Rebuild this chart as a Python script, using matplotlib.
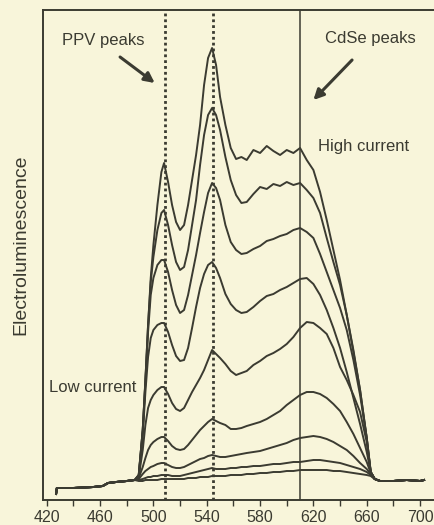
"""Electroluminescence spectra of a PPV / CdSe device at rising drive current."""
import matplotlib
matplotlib.use("Agg")
import matplotlib.pyplot as plt

BG = "#f8f5da"
INK = "#3b3b31"

# shared flat baseline before the rising edge, and after the fall-off (nm, a.u.)
base_left_x = [427, 427.6, 440, 455, 462, 466, 472, 480, 486]
base_left_y = [6, 12, 12, 13, 14, 17, 18, 19, 20]
base_right_x = [666, 670, 680, 690, 700, 703]
base_right_y = [21, 19, 19, 20, 19, 20]

wl = [489, 492, 494, 496, 498, 500, 503, 506, 508, 511, 514, 517, 520, 523, 526,
      529, 532, 535, 538, 541, 544, 547, 550, 554, 558, 562, 566, 570, 575, 580,
      585, 590, 595, 600, 605, 610, 615, 620, 625, 630, 635, 640, 645, 650, 655,
      660, 663]

# high current -> low current
el_1 = [25, 70, 120, 175, 222, 255, 295, 328, 337, 318, 295, 278, 270, 275, 295,
        320, 345, 375, 415, 442, 452, 435, 403, 375, 352, 341, 343, 340, 350, 347,
        354, 349, 345, 350, 347, 352, 340, 330, 308, 280, 250, 220, 185, 148, 110,
        62, 28]
el_2 = [25, 70, 120, 175, 218, 243, 270, 287, 290, 275, 255, 238, 230, 233, 250,
        275, 300, 335, 365, 385, 392, 385, 370, 343, 320, 305, 297, 298, 306, 313,
        311, 316, 314, 318, 315, 317, 310, 302, 287, 262, 238, 215, 185, 150, 110,
        62, 28]
el_3 = [25, 70, 118, 168, 205, 222, 235, 240, 240, 228, 210, 195, 187, 190, 205,
        225, 245, 267, 288, 307, 317, 312, 300, 275, 258, 250, 246, 247, 251, 254,
        259, 261, 264, 266, 270, 272, 268, 262, 246, 228, 210, 192, 170, 140, 105,
        62, 28]
el_4 = [24, 65, 108, 143, 162, 170, 175, 177, 177, 168, 155, 144, 139, 140, 152,
        172, 193, 212, 226, 235, 238, 232, 222, 206, 196, 190, 187, 188, 193, 199,
        204, 206, 210, 213, 217, 221, 222, 216, 205, 190, 172, 152, 128, 102, 76,
        48, 28]
el_5 = [23, 50, 75, 92, 100, 105, 110, 113, 113, 106, 97, 91, 89, 92, 100,
        108, 115, 122, 130, 140, 150, 146, 142, 136, 129, 125, 127, 129, 135, 139,
        144, 147, 151, 156, 163, 172, 178, 177, 172, 166, 152, 133, 120, 105, 88,
        58, 28]
el_6 = [22, 33, 42, 50, 55, 58, 61, 63, 63, 59, 54, 51, 50, 51, 55,
        60, 65, 70, 74, 78, 81, 79, 77, 75, 71, 71, 72, 74, 76, 78,
        81, 85, 89, 95, 100, 105, 108, 108, 106, 102, 96, 89, 78, 66, 52,
        38, 27]
el_7 = [21, 26, 29, 31, 33, 34, 36, 37, 37, 35, 33, 32, 32, 33, 35,
        37, 39, 41, 42, 44, 45, 44, 43, 43, 44, 45, 46, 47, 48, 49,
        51, 53, 55, 57, 60, 62, 63, 64, 63, 61, 58, 54, 50, 44, 37,
        31, 26]
el_8 = [20, 21, 22, 23, 23, 24, 24, 25, 25, 25, 24, 24, 24, 25, 26,
        27, 28, 29, 30, 31, 32, 31, 31, 31, 32, 32, 33, 33, 34, 34,
        35, 36, 36, 37, 38, 38, 39, 40, 40, 39, 38, 37, 35, 33, 31,
        28, 25]
el_9 = [19, 19, 20, 20, 20, 20, 20, 21, 21, 21, 21, 21, 21, 21, 22,
        22, 22, 23, 23, 23, 24, 24, 24, 24, 25, 25, 25, 26, 26, 27,
        27, 28, 28, 29, 29, 30, 30, 30, 30, 30, 29, 29, 28, 27, 26,
        25, 24]
spectra = [el_1, el_2, el_3, el_4, el_5, el_6, el_7, el_8, el_9]

ppv_lines = [508.5, 544.7]
cdse_line = 610
ticks_major = [420, 460, 500, 540, 580, 620, 660, 700]
ticks_minor = [440, 480, 520, 560, 600, 640, 680]

plt.rcParams["font.family"] = ["Liberation Sans", "DejaVu Sans"]

W, H = 435, 525
fig = plt.figure(figsize=(W / 100, H / 100), dpi=100, facecolor=BG)
# right spine sits just past the picture edge, as in the cropped scan
ax = fig.add_axes([43 / W, 25 / H, (445 - 43) / W, 490 / H], facecolor=BG)
ax.set_xlim(417.2, 718.7)
ax.set_ylim(0, 490)

for v in ppv_lines:
    ax.axvline(v, color=INK, lw=2.0, ls=(0, (1.0, 1.1)), zorder=1)
ax.axvline(cdse_line, color=INK, lw=1.1, zorder=1)

for el in spectra:
    xs = base_left_x + wl + base_right_x
    ys = base_left_y + el + base_right_y
    ax.plot(xs, ys, color=INK, lw=1.4, solid_joinstyle="round", zorder=2)

for s in ("left", "bottom", "top"):
    ax.spines[s].set_color(INK)
    ax.spines[s].set_linewidth(1.4)
ax.spines["right"].set_visible(False)

ax.set_xticks(ticks_major)
ax.set_xticks(ticks_minor, minor=True)
ax.set_yticks([])
ax.tick_params(axis="x", which="both", direction="out", length=4, width=1,
               color=INK, labelsize=11.5, labelcolor=INK, pad=3)

txt = dict(color=INK, fontsize=12, va="center", ha="left")
ax.text(431.5, 460, "PPV peaks", **txt)
ax.text(629, 462, "CdSe peaks", **txt)
ax.text(623.5, 353, "High current", **txt)
ax.text(421.7, 112, "Low current", **txt)

arrow = dict(arrowstyle="-|>", lw=2.2, color=INK, mutation_scale=15,
             shrinkA=0, shrinkB=0)
ax.annotate("", xy=(501, 417), xytext=(475, 443), arrowprops=arrow)
ax.annotate("", xy=(620, 400), xytext=(649, 440), arrowprops=arrow)

fig.text(21 / W, 1 - 245 / H, "Electroluminescence", rotation=90, color=INK,
         fontsize=14, ha="center", va="center")

fig.savefig("out.png", dpi=100, facecolor=BG)
